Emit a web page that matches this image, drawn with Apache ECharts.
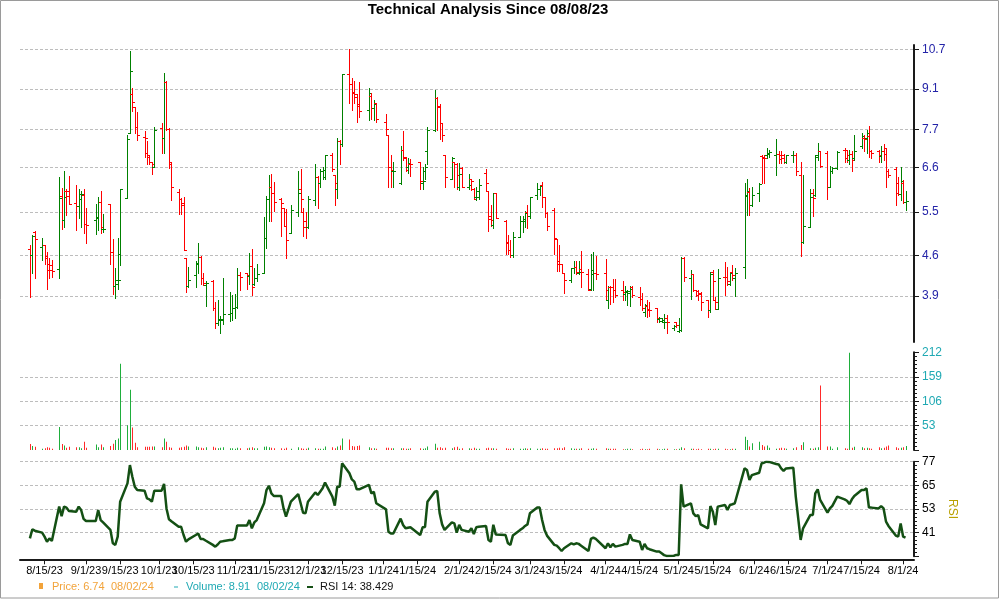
<!DOCTYPE html>
<html><head><meta charset="utf-8">
<script src="https://cdn.jsdelivr.net/npm/echarts@6/dist/echarts.min.js"></script>
<style>html,body{margin:0;padding:0;background:#fff}#chart{width:1000px;height:600px}</style>
</head><body><div id="chart"></div>
<script>
const dates = [
'2023-08-09','2023-08-10','2023-08-11',
'2023-08-14','2023-08-15','2023-08-16','2023-08-17','2023-08-18',
'2023-08-21','2023-08-22','2023-08-23','2023-08-24','2023-08-25',
'2023-08-28','2023-08-29','2023-08-30','2023-08-31','2023-09-01',
'2023-09-05','2023-09-06','2023-09-07','2023-09-08',
'2023-09-11','2023-09-12','2023-09-13','2023-09-14','2023-09-15',
'2023-09-18','2023-09-19','2023-09-20','2023-09-21','2023-09-22',
'2023-09-25','2023-09-26','2023-09-27','2023-09-28','2023-09-29',
'2023-10-02','2023-10-03','2023-10-04','2023-10-05','2023-10-06',
'2023-10-09','2023-10-10','2023-10-11','2023-10-12','2023-10-13',
'2023-10-16','2023-10-17','2023-10-18','2023-10-19','2023-10-20',
'2023-10-23','2023-10-24','2023-10-25','2023-10-26','2023-10-27',
'2023-10-30','2023-10-31','2023-11-01','2023-11-02','2023-11-03',
'2023-11-06','2023-11-07','2023-11-08','2023-11-09','2023-11-10',
'2023-11-13','2023-11-14','2023-11-15','2023-11-16','2023-11-17',
'2023-11-20','2023-11-21','2023-11-22','2023-11-24',
'2023-11-27','2023-11-28','2023-11-29','2023-11-30','2023-12-01',
'2023-12-04','2023-12-05','2023-12-06','2023-12-07','2023-12-08',
'2023-12-11','2023-12-12','2023-12-13','2023-12-14','2023-12-15',
'2023-12-18','2023-12-19','2023-12-20','2023-12-21','2023-12-22',
'2023-12-26','2023-12-27','2023-12-28','2023-12-29',
'2024-01-02','2024-01-03','2024-01-04','2024-01-05',
'2024-01-08','2024-01-09','2024-01-10','2024-01-11','2024-01-12',
'2024-01-16','2024-01-17','2024-01-18','2024-01-19',
'2024-01-22','2024-01-23','2024-01-24','2024-01-25','2024-01-26',
'2024-01-29','2024-01-30','2024-01-31','2024-02-01','2024-02-02',
'2024-02-05','2024-02-06','2024-02-07','2024-02-08','2024-02-09',
'2024-02-12','2024-02-13','2024-02-14','2024-02-15','2024-02-16',
'2024-02-20','2024-02-21','2024-02-22','2024-02-23',
'2024-02-26','2024-02-27','2024-02-28','2024-02-29','2024-03-01',
'2024-03-04','2024-03-05','2024-03-06','2024-03-07','2024-03-08',
'2024-03-11','2024-03-12','2024-03-13','2024-03-14','2024-03-15',
'2024-03-18','2024-03-19','2024-03-20','2024-03-21','2024-03-22',
'2024-03-25','2024-03-26','2024-03-27','2024-03-28',
'2024-04-01','2024-04-02','2024-04-03','2024-04-04','2024-04-05',
'2024-04-08','2024-04-09','2024-04-10','2024-04-11','2024-04-12',
'2024-04-15','2024-04-16','2024-04-17','2024-04-18','2024-04-19',
'2024-04-22','2024-04-23','2024-04-24','2024-04-25','2024-04-26',
'2024-04-29','2024-04-30','2024-05-01','2024-05-02','2024-05-03',
'2024-05-06','2024-05-07','2024-05-08','2024-05-09','2024-05-10',
'2024-05-13','2024-05-14','2024-05-15','2024-05-16','2024-05-17',
'2024-05-20','2024-05-21','2024-05-22','2024-05-23','2024-05-24',
'2024-05-28','2024-05-29','2024-05-30','2024-05-31',
'2024-06-03','2024-06-04','2024-06-05','2024-06-06','2024-06-07',
'2024-06-10','2024-06-11','2024-06-12','2024-06-13','2024-06-14',
'2024-06-17','2024-06-18','2024-06-20','2024-06-21',
'2024-06-24','2024-06-25','2024-06-26','2024-06-27','2024-06-28',
'2024-07-01','2024-07-02','2024-07-03','2024-07-05',
'2024-07-08','2024-07-09','2024-07-10','2024-07-11','2024-07-12',
'2024-07-15','2024-07-16','2024-07-17','2024-07-18','2024-07-19',
'2024-07-22','2024-07-23','2024-07-24','2024-07-25','2024-07-26',
'2024-07-29','2024-07-30','2024-07-31','2024-08-01','2024-08-02'
];
const opens = [
4.73,4.62,5.06,
4.76,4.80,4.55,4.44,4.43,
4.35,5.88,5.33,6.00,6.00,
5.70,5.64,5.80,5.90,5.23,
5.33,5.36,5.72,5.13,
5.68,4.66,4.07,4.10,4.64,
5.83,7.60,8.90,8.45,7.80,
7.48,7.00,6.90,6.76,6.62,
7.74,7.43,9.35,7.72,6.70,
5.97,5.80,5.65,4.56,4.07,
4.25,4.45,4.58,4.20,4.08,
4.15,3.72,3.49,3.53,3.55,
3.62,3.64,3.72,3.73,4.25,
4.28,4.23,4.41,4.10,4.20,
4.28,4.95,5.80,6.10,5.95,
5.80,5.60,5.50,5.04,
5.50,6.05,5.50,5.30,5.17,
5.78,6.35,6.20,6.50,6.35,
6.95,6.40,6.05,7.35,7.25,
9.68,9.30,9.00,8.80,8.50,
8.35,8.85,8.42,8.60,
7.95,7.55,6.60,6.50,
6.18,7.10,6.85,6.62,6.70,
6.75,6.20,6.50,7.05,
7.70,8.75,8.45,7.90,6.95,
6.30,6.76,6.70,6.10,6.58,
6.10,6.30,6.05,5.85,5.85,
6.45,6.00,5.40,5.22,5.95,
5.30,4.85,4.70,4.62,
4.96,5.30,5.30,5.50,5.40,
5.90,6.05,6.13,5.85,5.48,
5.55,4.93,4.50,4.45,4.28,
4.16,4.38,4.40,4.29,4.35,
4.27,4.02,4.27,4.28,
4.28,3.83,4.05,4.04,4.00,
4.00,3.93,3.97,3.95,4.05,
3.88,3.86,3.65,3.75,3.70,
3.71,3.55,3.52,3.50,3.57,
3.42,3.50,3.38,3.40,4.56,
4.20,4.27,3.99,3.98,3.95,
3.84,3.68,4.30,3.83,3.70,
4.22,4.22,4.10,4.30,4.20,
4.40,5.90,5.98,5.65,
5.95,6.92,6.88,6.95,6.97,
6.95,6.98,6.95,6.93,6.76,
6.95,6.95,6.40,4.87,
5.18,5.95,5.90,6.95,7.05,
7.00,6.10,6.50,6.58,
7.10,7.08,6.80,6.98,6.85,
7.20,7.45,7.45,7.50,7.05,
7.05,6.92,7.05,7.15,6.50,
6.55,6.20,5.92,6.20,5.72
];
const highs = [
4.80,5.00,5.09,
4.95,4.81,4.67,4.56,4.51,
6.35,6.07,6.50,6.05,6.38,
6.13,6.04,6.00,6.05,5.58,
5.68,5.85,6.00,5.45,
5.68,4.92,4.38,4.95,6.05,
7.55,10.63,9.13,8.45,8.29,
7.66,7.35,6.95,6.76,7.80,
7.90,9.73,9.40,7.75,6.73,
6.03,5.83,5.85,4.56,4.40,
4.50,4.84,4.60,4.28,4.14,
4.16,3.80,3.83,3.60,4.20,
3.96,3.92,3.93,4.38,4.30,
4.29,4.65,4.72,4.37,4.44,
5.38,5.88,6.40,6.42,6.23,
5.82,5.60,5.56,5.65,
6.50,6.55,5.60,5.50,5.88,
6.70,6.38,6.55,6.60,6.95,
7.00,6.40,7.45,7.38,9.68,
10.70,9.50,9.40,8.90,9.35,
9.12,8.95,8.68,8.60,
8.20,7.55,6.95,6.74,
7.20,7.65,6.90,6.85,6.84,
6.76,6.60,6.70,7.80,
9.05,8.80,8.55,7.92,6.95,
6.90,6.76,6.72,6.72,6.60,
6.43,6.30,6.06,6.10,6.30,
6.55,6.00,5.66,5.95,5.95,
5.32,5.00,4.90,5.07,
5.42,5.40,5.53,5.67,5.85,
6.20,6.15,6.22,5.85,5.50,
5.60,4.93,4.80,4.45,4.28,
4.38,4.50,4.50,4.50,4.68,
4.36,4.64,4.66,4.60,
4.54,4.06,4.06,4.18,4.18,
4.15,4.06,3.99,4.06,4.07,
4.04,3.95,3.78,3.83,3.80,
3.71,3.58,3.56,3.62,3.61,
3.47,3.50,3.56,4.57,4.57,
4.34,4.27,4.00,4.00,3.96,
3.84,4.30,4.34,3.88,4.35,
4.48,4.40,4.28,4.42,4.38,
6.18,6.30,6.07,6.10,
6.20,6.95,6.95,7.15,7.10,
7.40,7.05,7.05,6.98,6.95,
7.05,7.00,6.75,6.40,
6.05,6.03,6.95,7.30,7.05,
7.06,6.65,6.60,7.05,
7.15,7.08,7.10,7.05,7.55,
7.60,7.55,7.70,7.82,7.10,
7.10,7.20,7.25,7.15,6.55,
6.60,6.35,6.60,6.28,6.00
];
const lows = [
3.88,4.28,4.19,
4.51,4.44,4.02,4.20,4.22,
4.19,5.13,5.17,5.43,5.68,
5.10,5.36,5.18,5.04,4.85,
5.03,5.10,5.04,5.07,
4.45,3.94,3.87,4.02,4.43,
5.83,7.60,8.30,7.60,7.38,
6.89,6.68,6.68,6.43,6.62,
7.00,7.00,7.70,6.58,5.78,
5.45,5.45,4.70,3.96,4.05,
4.05,4.28,4.10,4.08,3.74,
3.68,3.42,3.47,3.35,3.48,
3.52,3.53,3.56,3.72,4.00,
4.02,4.10,3.92,4.08,4.15,
4.28,4.74,5.30,5.30,5.53,
4.98,5.20,4.56,5.04,
5.40,5.50,4.98,4.95,5.15,
5.66,5.60,6.10,6.30,6.30,
6.50,5.67,5.83,6.70,7.20,
8.60,8.35,8.60,7.95,8.10,
8.00,8.05,8.00,7.95,
7.55,6.10,6.10,6.10,
6.16,6.80,6.50,6.45,6.37,
6.05,6.05,6.30,6.70,
7.65,7.70,7.40,7.35,6.10,
6.30,6.10,6.03,6.02,6.08,
6.04,6.02,5.80,5.77,5.80,
6.00,5.08,5.20,5.15,5.36,
4.64,4.64,4.57,4.58,
4.96,5.06,5.17,5.16,5.36,
5.80,5.90,5.62,5.39,5.10,
4.64,4.32,4.32,4.28,3.95,
4.13,4.28,4.27,4.27,4.05,
4.00,4.00,4.00,4.18,
3.83,3.71,3.77,3.80,3.88,
3.83,3.83,3.76,3.74,3.88,
3.76,3.69,3.60,3.58,3.60,
3.50,3.51,3.50,3.42,3.35,
3.40,3.43,3.36,3.38,4.15,
3.85,3.98,3.90,3.83,3.69,
3.58,3.66,3.85,3.70,3.70,
3.92,4.08,4.08,4.16,3.90,
4.20,5.44,5.44,5.63,
5.75,6.20,6.20,6.85,6.90,
6.40,6.73,6.73,6.72,6.72,
6.75,6.40,4.60,4.84,
5.17,5.42,5.88,6.80,6.60,
5.80,6.10,6.45,6.55,
6.75,6.75,6.70,6.50,6.80,
7.15,7.05,7.00,6.88,6.85,
6.75,6.75,6.80,6.10,6.35,
5.67,5.90,5.77,5.70,5.55
];
const closes = [
4.62,4.99,4.92,
4.80,4.60,4.33,4.33,4.32,
5.83,5.33,5.85,5.86,5.69,
5.64,5.91,5.91,5.23,5.22,
5.38,5.72,5.17,5.14,
4.66,4.06,4.17,4.16,6.04,
7.42,9.78,8.63,7.80,7.55,
7.45,6.93,6.76,6.70,7.70,
7.43,9.35,7.72,6.75,6.10,
5.80,5.70,4.70,4.07,4.17,
4.46,4.58,4.19,4.12,4.11,
3.72,3.49,3.55,3.54,3.62,
3.64,3.72,3.73,4.25,4.22,
4.25,4.41,4.04,4.20,4.27,
4.95,5.80,6.10,5.95,5.73,
5.70,5.20,4.91,5.55,
5.95,5.80,5.17,5.17,5.80,
6.35,6.20,6.50,6.52,6.93,
6.55,6.18,7.35,7.25,9.68,
9.30,8.95,8.90,8.55,8.30,
8.95,8.42,8.55,8.05,
7.72,6.60,6.52,6.50,
7.10,6.88,6.52,6.72,6.68,
6.25,6.25,6.60,7.70,
8.75,8.50,7.90,7.55,6.35,
6.85,6.70,6.40,6.42,6.10,
6.15,6.25,5.80,6.00,6.15,
6.20,5.35,5.32,5.95,5.36,
4.86,4.70,4.62,4.96,
5.30,5.35,5.48,5.40,5.85,
6.05,6.12,5.85,5.48,5.20,
4.95,4.45,4.45,4.28,4.16,
4.38,4.40,4.30,4.30,4.30,
4.00,4.33,4.28,4.26,
4.00,4.05,4.04,4.00,3.92,
3.96,3.98,3.98,4.02,3.92,
3.85,3.71,3.76,3.69,3.68,
3.57,3.57,3.53,3.51,3.50,
3.45,3.47,3.40,4.56,4.22,
4.27,4.00,3.91,3.94,3.80,
3.68,4.27,4.15,3.80,4.20,
4.21,4.15,4.28,4.25,4.28,
5.87,6.00,5.65,5.90,
6.17,6.86,6.85,7.00,7.02,
6.98,6.82,6.85,6.76,6.95,
6.95,6.50,4.87,5.20,
5.85,5.82,6.90,7.05,6.65,
6.10,6.50,6.58,7.03,
6.85,6.95,6.98,6.80,7.05,
7.50,7.42,7.60,7.05,7.00,
6.95,7.05,6.98,6.50,6.40,
5.95,5.92,6.25,5.72,5.75
];
const volumes = [
13,9,7,
3,4,6,5,3,
50,13,10,5,7,
6,6,4,18,5,
12,6,12,6,
9,14,22,25,187,
54,131,49,16,6,
7,7,7,8,8,
6,25,18,6,5,
5,6,7,10,8,
8,6,5,4,6,
7,5,4,5,6,
4,4,3,5,4,
4,5,6,4,4,
7,8,6,5,4,
4,3,5,3,
6,4,3,3,5,
4,3,3,3,8,
6,4,8,10,25,
23,9,8,9,10,
6,4,4,3,
5,5,4,4,
4,4,3,3,4,
4,3,4,8,
14,5,6,4,5,
4,6,7,3,4,
4,3,5,3,3,
4,5,4,4,3,
4,3,3,4,
3,3,4,3,4,
3,3,4,3,3,
4,4,5,4,6,
4,3,3,3,4,
3,3,4,3,
4,3,3,3,3,
2,2,3,3,2,
2,3,2,2,3,
3,2,2,3,3,
2,2,3,6,4,
3,3,2,3,2,
3,3,2,3,3,
3,2,2,3,3,
29,22,8,15,
18,11,8,10,5,
3,4,5,4,3,
4,6,11,17,
4,3,5,6,140,
8,8,3,6,
4,3,211,5,7,
6,4,5,4,3,
6,4,5,8,10,
6,4,5,6,8.91
];
const rsi = [
38.1,42.7,42.0,
41.0,39.0,36.4,38.1,36.8,
54.2,49.4,54.2,53.7,52.0,
51.6,54.2,52.5,48.0,46.9,
46.9,52.5,47.4,46.2,
42.4,35.6,34.8,39.0,56.7,
66.0,75.3,69.4,64.3,62.6,
62.3,58.4,57.9,56.7,62.3,
62.3,65.7,53.3,47.8,46.8,
44.0,44.0,39.8,36.4,37.6,
39.8,40.6,37.8,37.8,37.0,
34.8,33.9,35.0,36.4,36.6,
37.3,37.3,38.1,44.6,44.6,
44.6,47.4,43.2,46.2,47.4,
55.9,62.6,64.8,60.9,59.6,
59.6,53.3,49.1,56.7,
60.6,55.9,51.1,50.8,56.7,
61.4,60.1,61.8,63.5,66.4,
59.3,54.7,64.3,64.3,76.2,
71.1,68.0,66.9,63.0,63.0,
65.2,60.9,61.8,55.9,
52.8,41.5,40.6,40.6,
48.1,44.9,43.2,43.5,43.7,
39.8,43.7,43.9,56.7,
61.8,62.1,50.8,45.2,42.4,
46.2,45.7,41.0,45.0,42.4,
41.5,43.2,40.3,43.7,44.0,
44.4,37.3,36.4,45.0,40.1,
39.8,35.6,34.8,39.5,
42.4,43.2,44.4,45.2,50.8,
53.8,53.7,47.4,42.4,39.5,
34.8,34.4,33.1,31.7,33.1,
35.6,35.0,35.6,35.3,34.4,
31.7,37.8,38.5,37.8,
33.1,35.6,33.6,35.3,33.9,
34.8,35.3,35.3,40.1,37.3,
36.4,32.2,35.3,33.1,32.6,
31.4,31.4,30.5,29.6,29.2,
29.3,29.7,29.7,65.5,54.2,
55.9,50.8,49.4,49.9,45.2,
43.2,54.5,51.6,44.9,54.2,
55.0,52.5,55.0,55.4,55.9,
73.6,72.8,67.7,70.2,
71.4,76.2,76.5,77.0,76.9,
75.8,75.6,73.6,72.3,73.6,
73.9,59.3,37.3,43.2,
50.0,50.0,60.9,63.0,57.6,
51.1,53.3,54.6,59.3,
57.9,57.2,55.5,57.9,59.6,
62.6,62.6,63.5,53.7,53.7,
53.3,54.5,53.3,46.6,44.4,
39.5,39.0,45.7,39.0,38.429
];
const xTickLabels = ['8/15/23','9/1/23','9/15/23','10/1/23','10/15/23','11/1/23','11/15/23','12/1/23','12/15/23','1/1/24','1/15/24','2/1/24','2/15/24','3/1/24','3/15/24','4/1/24','4/15/24','5/1/24','5/15/24','6/1/24','6/15/24','7/1/24','7/15/24','8/1/24'];
const priceTicks = [3.9, 4.6, 5.5, 6.6, 7.7, 9.1, 10.7];
const volumeTicks = [53, 106, 159, 212];
const rsiTicks = [41, 53, 65, 77];
const titleText = 'Technical Analysis Since 08/08/23';
const legendPrice = ['Price: 6.74', '08/02/24'];
const legendVolume = ['Volume: 8.91', '08/02/24'];
const legendRsi = 'RSI 14: 38.429';

function parseISO(s){const p=s.split('-').map(Number);return new Date(p[0],p[1]-1,p[2]).getTime();}
function parseMDY(s){const p=s.split('/').map(Number);return new Date(2000+p[2],p[0]-1,p[1]).getTime();}
function fmtMDY(v){const d=new Date(v);return (d.getMonth()+1)+'/'+d.getDate()+'/'+String(d.getFullYear()).slice(2);}

const ts = dates.map(parseISO);
const ohlcData = ts.map((t,i)=>[t, opens[i], highs[i], lows[i], closes[i]]);
const volData = ts.map((t,i)=>[t, volumes[i], closes[i]>=opens[i]?1:0]);
const rsiData = ts.map((t,i)=>[t, rsi[i]]);
const xTicks = xTickLabels.map(parseMDY);

const X_MIN = new Date(2023,7,4,22,30).getTime();
const X_MAX = new Date(2024,7,5,11,20).getTime();
const FONT = 'Liberation Sans, Arial, sans-serif';
const AXIS_COLOR = '#1a1a1a';
const GRID_LINE = {show:true, lineStyle:{color:'#bdbdbd', type:[3,2], width:1}};

const chart = echarts.init(document.getElementById('chart'), null, {renderer:'canvas'});

function hiddenX(gi){
  return {type:'value', gridIndex:gi, min:X_MIN, max:X_MAX, show:false,
    axisLine:{show:false}, axisTick:{show:false}, axisLabel:{show:false}, splitLine:{show:false}};
}

const option = {
  animation:false,
  backgroundColor:'#ffffff',
  grid:[
    {left:20, right:86, top:45, height:297},
    {left:20, right:86, top:352.3, height:97.8},
    {left:20, right:86, top:461.7, height:94.6}
  ],
  xAxis:[
    hiddenX(0), hiddenX(1),
    {type:'value', gridIndex:2, min:X_MIN, max:X_MAX, offset:3, scale:true,
      axisLine:{show:true, onZero:false, lineStyle:{color:AXIS_COLOR, width:2}},
      axisTick:{show:true, customValues:xTicks, length:5, lineStyle:{color:AXIS_COLOR, width:1}},
      axisLabel:{show:true, customValues:xTicks, formatter:fmtMDY, color:'#000', fontSize:11, fontFamily:FONT, margin:6, hideOverlap:false},
      splitLine:{show:false}, minorTick:{show:false}}
  ],
  yAxis:[
    {type:'log', gridIndex:0, position:'right', min:3.231, max:10.89,
      axisLine:{show:true, lineStyle:{color:AXIS_COLOR, width:2}},
      axisTick:{show:true, customValues:priceTicks, length:5, lineStyle:{color:AXIS_COLOR, width:1}},
      axisLabel:{show:true, customValues:priceTicks, formatter:v=>(+v).toFixed(1), color:'#2424a8', fontSize:12, fontFamily:FONT, margin:8},
      splitLine:GRID_LINE},
    {type:'value', gridIndex:1, position:'right', min:0, max:212, interval:53,
      axisLine:{show:true, lineStyle:{color:AXIS_COLOR, width:2}},
      axisTick:{show:true, length:5, lineStyle:{color:AXIS_COLOR, width:1}},
      minorTick:{show:true, splitNumber:6, length:3, lineStyle:{color:AXIS_COLOR, width:1}},
      axisLabel:{show:true, formatter:v=>(volumeTicks.indexOf(v)>=0?String(v):''), color:'#1fa9b3', fontSize:12, fontFamily:FONT, margin:8},
      splitLine:Object.assign({showMinLine:false, showMaxLine:false}, GRID_LINE)},
    {type:'value', gridIndex:2, position:'right', min:29, max:77, interval:12,
      name:'RSI', nameLocation:'middle', nameGap:25, nameRotate:-90,
      nameTextStyle:{color:'#b9a100', fontSize:12, fontFamily:FONT},
      axisLine:{show:true, lineStyle:{color:AXIS_COLOR, width:2}},
      axisTick:{show:true, length:5, lineStyle:{color:AXIS_COLOR, width:1}},
      minorTick:{show:true, splitNumber:6, length:3, lineStyle:{color:AXIS_COLOR, width:1}},
      axisLabel:{show:true, formatter:v=>(rsiTicks.indexOf(v)>=0?String(v):''), color:'#000', fontSize:12, fontFamily:FONT, margin:8},
      splitLine:Object.assign({showMinLine:false}, GRID_LINE)}
  ],
  graphic:[
    {type:'rect', silent:true, z:-1, shape:{x:0.5,y:0.5,width:998,height:597.5}, style:{fill:null, stroke:'#9a9a9a', lineWidth:1}},
    {type:'text', x:488, y:10, style:{text:titleText, font:'bold 15px '+FONT, fill:'#000', textAlign:'center', textVerticalAlign:'middle'}},
    {type:'rect', shape:{x:39,y:583,width:4,height:6}, style:{fill:'#f2a33a'}},
    {type:'text', x:52, y:587, style:{text:legendPrice[0], font:'11px '+FONT, fill:'#f2a33a', textVerticalAlign:'middle'}},
    {type:'text', x:111, y:587, style:{text:legendPrice[1], font:'11px '+FONT, fill:'#f2a33a', textVerticalAlign:'middle'}},
    {type:'rect', shape:{x:174,y:586.5,width:4,height:1}, style:{fill:'#1fa9b3'}},
    {type:'text', x:186, y:587, style:{text:legendVolume[0], font:'11px '+FONT, fill:'#1fa9b3', textVerticalAlign:'middle'}},
    {type:'text', x:257, y:587, style:{text:legendVolume[1], font:'11px '+FONT, fill:'#1fa9b3', textVerticalAlign:'middle'}},
    {type:'rect', shape:{x:307,y:586,width:6,height:2}, style:{fill:'#165016'}},
    {type:'text', x:320, y:587, style:{text:legendRsi, font:'11px '+FONT, fill:'#111', textVerticalAlign:'middle'}}
  ],
  series:[
    {type:'custom', name:'Price', xAxisIndex:0, yAxisIndex:0, data:ohlcData,
      encode:{x:0, y:[1,2,3,4]},
      renderItem:function(params, api){
        const t = api.value(0);
        const o = api.coord([t, api.value(1)]);
        const h = api.coord([t, api.value(2)]);
        const l = api.coord([t, api.value(3)]);
        const c = api.coord([t, api.value(4)]);
        const x = Math.round(o[0]) + 0.5;
        const color = api.value(4) >= api.value(1) ? '#008000' : '#ff0000';
        const st = {stroke:color, lineWidth:1};
        const oy = Math.round(o[1]) + 0.5, cy = Math.round(c[1]) + 0.5;
        return {type:'group', children:[
          {type:'line', shape:{x1:x, y1:Math.round(h[1]), x2:x, y2:Math.round(l[1])+1}, style:st},
          {type:'line', shape:{x1:x-2.5, y1:oy, x2:x, y2:oy}, style:st},
          {type:'line', shape:{x1:x, y1:cy, x2:x+2.5, y2:cy}, style:st}
        ]};
      }},
    {type:'custom', name:'Volume', xAxisIndex:1, yAxisIndex:1, data:volData,
      encode:{x:0, y:1},
      renderItem:function(params, api){
        const t = api.value(0);
        const p = api.coord([t, api.value(1)]);
        const b = api.coord([t, 0]);
        const x = Math.round(p[0]);
        const color = api.value(2) ? '#1fae3c' : '#ff2a2a';
        return {type:'rect', shape:{x:x, y:p[1], width:1, height:b[1]-p[1]}, style:{fill:color}};
      }},
    {type:'line', name:'RSI', xAxisIndex:2, yAxisIndex:2, data:rsiData,
      showSymbol:false, symbol:'none', lineStyle:{color:'#145014', width:2.5}, silent:true}
  ]
};
chart.setOption(option);
</script></body></html>
